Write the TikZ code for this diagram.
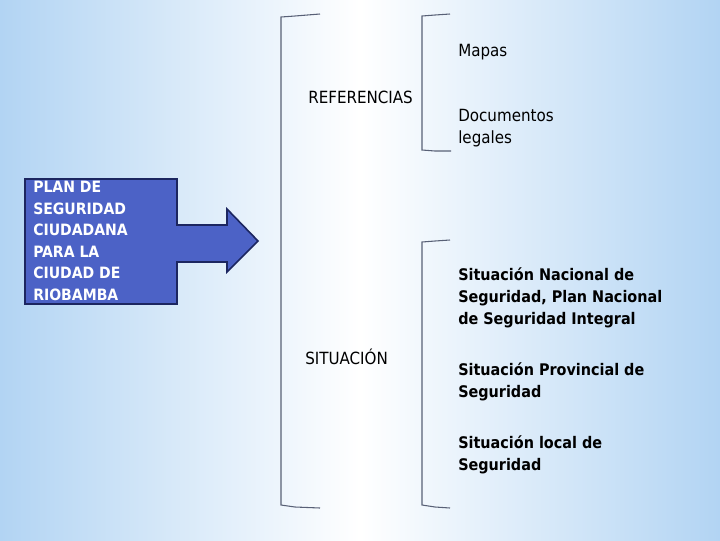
\documentclass[tikz,border=0pt]{standalone}
\usepackage{fontspec}
\setmainfont{DejaVu Sans Condensed}
\definecolor{fondo}{RGB}{178,212,243}
\definecolor{planazul}{RGB}{76,98,198}
\definecolor{planborde}{RGB}{28,38,96}
\definecolor{llavegris}{RGB}{88,96,118}

\begin{document}
\begin{tikzpicture}[x=0.75pt,y=-0.75pt,
	llave/.style={draw=llavegris,line width=0.8pt},
	titulo/.style={anchor=west,inner sep=0pt,font=\fontsize{12.6}{16.5}\selectfont},
	rama/.style={anchor=west,align=left,inner sep=0pt,font=\fontsize{12.6}{16.5}\selectfont},
	ramanegra/.style={rama,font=\fontsize{12}{16.5}\selectfont\bfseries}]
	\useasboundingbox (0,0) rectangle (720,540);
	\shade[left color=fondo,right color=fondo,middle color=white] (0,0) rectangle (720,540);

	\draw[fill=planazul,draw=planborde,line width=1.2pt] (25,179) -- (177,179) -- (177,225) -- (227,225) -- (227,209)
		-- (258,241) -- (227,272) -- (227,262) -- (177,262) -- (177,304) -- (25,304) -- cycle;
	\node[rama,text=white,font=\fontsize{11.7}{16.2}\selectfont\bfseries] (plan) at (33,241)
		{PLAN DE\\SEGURIDAD\\CIUDADANA\\PARA LA\\CIUDAD DE\\RIOBAMBA};

	\draw[llave] (320,14) -- (295,16) -- (281,17) -- (281,505) -- (295,507) -- (320,508);
	\draw[llave] (450,14) -- (435,15) -- (422,16) -- (422,150) -- (435,151) -- (451,151);
	\draw[llave] (450,240) -- (435,241) -- (422,242) -- (422,505) -- (435,507) -- (450,508);

	\node[titulo] (ref) at (308,97) {REFERENCIAS};
	\node[titulo] (sit) at (305,357) {SITUACIÓN};

	\node[rama] (mapas) at (458,52) {Mapas};
	\node[rama] (docs) at (458,128) {Documentos\\legales};

	\node[ramanegra] (nacional) at (458,298) {Situación Nacional de\\Seguridad, Plan Nacional\\de Seguridad Integral};
	\node[ramanegra] (provincial) at (458,382) {Situación Provincial de\\Seguridad};
	\node[ramanegra] (local) at (458,454.5) {Situación local de\\Seguridad};
\end{tikzpicture}
\end{document}
